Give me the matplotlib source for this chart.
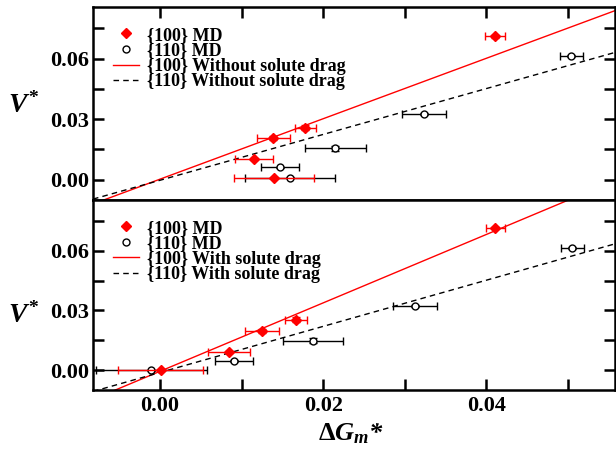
import matplotlib
matplotlib.use("Agg")
import matplotlib.pyplot as plt
from matplotlib.lines import Line2D
import numpy as np

plt.rcParams['font.family'] = ['Liberation Serif', 'DejaVu Serif']
plt.rcParams['font.weight'] = 'bold'
plt.rcParams['mathtext.fontset'] = 'custom'
plt.rcParams['mathtext.it'] = 'Liberation Serif:italic:bold'
plt.rcParams['mathtext.rm'] = 'Liberation Serif:bold'
plt.rcParams['mathtext.bf'] = 'Liberation Serif:bold'

# ---------------- data: top panel (without solute drag) ----------------
top_100_x = [0.0410, 0.0178, 0.0139, 0.01154, 0.01394]
top_100_y = [0.0710, 0.0258, 0.0205, 0.0101, 0.0011]
top_100_xerr = [0.00122, 0.0013, 0.0020, 0.0023, 0.0049]
top_100_yerr = [0.0006, 0.0012, 0.0010, 0.0005, 0.0003]

top_110_x = [0.0504, 0.0323, 0.0215, 0.0147, 0.0159]
top_110_y = [0.0611, 0.0326, 0.0155, 0.0061, 0.0011]
top_110_xerr = [0.0014, 0.0027, 0.0037, 0.0023, 0.0055]
top_110_yerr = [0.0005, 0.0005, 0.0012, 0.0004, 0.0003]

# ---------------- data: bottom panel (with solute drag) ----------------
bot_100_x = [0.0411, 0.01664, 0.01252, 0.00848, 0.0001]
bot_100_y = [0.0713, 0.0254, 0.0198, 0.00915, 0.0000]
bot_100_xerr = [0.0012, 0.00135, 0.0021, 0.0026, 0.0052]
bot_100_yerr = [0.0006, 0.0012, 0.0010, 0.0005, 0.0003]

bot_110_x = [0.0505, 0.0312, 0.01876, 0.0091, -0.00106]
bot_110_y = [0.0615, 0.0320, 0.0147, 0.0047, 0.0000]
bot_110_xerr = [0.0014, 0.0027, 0.0037, 0.0023, 0.0068]
bot_110_yerr = [0.0005, 0.0005, 0.0012, 0.0004, 0.0003]

# fitted lines (slope, intercept)
top_line_100 = (1.496, 0.0003)
top_line_110 = (1.135, -0.00025)
bot_line_100 = (1.72, -0.0006)
bot_line_110 = (1.16, -0.0012)

xlim = (-0.0082, 0.0558)
ylim = (-0.0100, 0.0855)
xticks_all = [0.00, 0.01, 0.02, 0.03, 0.04, 0.05]
xtick_labels = ['0.00', '', '0.02', '', '0.04', '']
yticks_all = [0.0, 0.015, 0.03, 0.045, 0.06, 0.075]
ytick_labels = ['0.00', '', '0.03', '', '0.06', '']

fig = plt.figure(figsize=(6.16, 4.53), dpi=100)
ax1 = fig.add_axes([0.151, 0.5585, 0.848, 0.426])
ax2 = fig.add_axes([0.151, 0.139, 0.848, 0.4195])

panels = [
    (ax1, top_100_x, top_100_y, top_100_xerr, top_100_yerr,
     top_110_x, top_110_y, top_110_xerr, top_110_yerr,
     top_line_100, top_line_110, 'Without solute drag'),
    (ax2, bot_100_x, bot_100_y, bot_100_xerr, bot_100_yerr,
     bot_110_x, bot_110_y, bot_110_xerr, bot_110_yerr,
     bot_line_100, bot_line_110, 'With solute drag'),
]

for (ax, x1, y1, xe1, ye1, x2, y2, xe2, ye2, l1, l2, lab) in panels:
    xx = np.array(xlim)
    ax.plot(xx, l1[0] * xx + l1[1], color='red', lw=1.0, zorder=2)
    ax.plot(xx, l2[0] * xx + l2[1], color='black', lw=1.0, ls=(0, (4, 3)), zorder=2)
    ax.errorbar(x2, y2, xerr=xe2, yerr=ye2, fmt='o', ms=5.0, mfc='white', mec='black',
                mew=1.0, ecolor='black', elinewidth=1.0, capsize=3.0, capthick=1.0, zorder=3)
    ax.errorbar(x1, y1, xerr=xe1, yerr=ye1, fmt='D', ms=5.5, mfc='red', mec='red',
                ecolor='red', elinewidth=1.0, capsize=3.0, capthick=1.0, zorder=4)
    ax.set_xlim(*xlim)
    ax.set_ylim(*ylim)
    ax.set_yticks(yticks_all)
    ax.set_yticklabels(ytick_labels)
    ax.set_xticks(xticks_all)
    for s in ax.spines.values():
        s.set_linewidth(1.8)
    ax.tick_params(axis='y', direction='in', length=8, width=1.8, left=True, right=True,
                   labelsize=16, pad=3)
    handles = [
        Line2D([], [], ls='none', marker='D', ms=5.5, mfc='red', mec='red'),
        Line2D([], [], ls='none', marker='o', ms=5.0, mfc='white', mec='black'),
        Line2D([], [], color='red', lw=1.0),
        Line2D([], [], color='black', lw=1.0, ls=(0, (4, 3))),
    ]
    labels = ['{100} MD', '{110} MD', '{100} ' + lab, '{110} ' + lab]
    ax.legend(handles, labels, loc='upper left', bbox_to_anchor=(0.025, 0.935),
              frameon=False, labelspacing=-0.08, handlelength=1.4,
              handletextpad=0.45, borderaxespad=0.0,
              prop={'family': 'Liberation Serif', 'weight': 'bold', 'size': 13})

ax1.tick_params(axis='x', direction='in', length=8, width=1.8, top=True, bottom=False,
                labelbottom=False)
ax2.tick_params(axis='x', direction='in', length=8, width=1.8, top=False, bottom=True,
                labelsize=16, pad=4)
ax2.set_xticklabels(xtick_labels)

fig.text(0.038, 0.768, r'$V^{*}$', fontsize=20, ha='center', va='center')
fig.text(0.038, 0.303, r'$V^{*}$', fontsize=20, ha='center', va='center')
fig.text(0.57, 0.043, r'$\Delta G_{m}$*', fontsize=19, ha='center', va='center',
         fontstyle='italic')

fig.savefig('out.png', dpi=100)
